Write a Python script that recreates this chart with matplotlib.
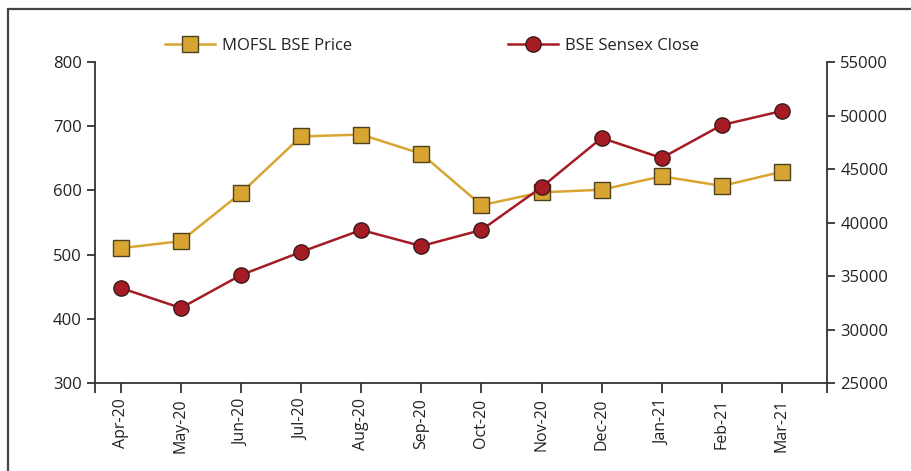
import numpy as np
import matplotlib
matplotlib.use('Agg')
import matplotlib.pyplot as plt
from matplotlib.patches import Rectangle
from matplotlib.lines import Line2D

plt.rcParams['font.family'] = ['Open Sans', 'DejaVu Sans']

# --- data ---
months = ['Apr-20', 'May-20', 'Jun-20', 'Jul-20', 'Aug-20', 'Sep-20',
          'Oct-20', 'Nov-20', 'Dec-20', 'Jan-21', 'Feb-21', 'Mar-21']
mofsl_price = [510, 521, 596, 684, 687, 657, 577, 597, 601, 622, 607, 629]
sensex_close = [33880, 32010, 35090, 37250, 39300, 37800,
                39300, 43300, 47900, 46030, 49110, 50420]

gold = '#D9A532'
gold_edge = '#4F4020'
red = '#A51C24'
red_edge = '#3A1A1A'
axis_col = '#333333'

fig = plt.figure(figsize=(9.12, 4.71), dpi=100)
W, H = 912, 471

# outer frame (left + top visible)
fig.patches.append(Rectangle((8 / W, -0.1), 1.2, 1 - 9 / H + 0.1,
                             transform=fig.transFigure, fill=False,
                             edgecolor='#444444', linewidth=1.6))

ax = fig.add_axes([95 / W, 1 - 383 / H, (827 - 95) / W, (383 - 62) / H])
ax2 = ax.twinx()

x = np.arange(len(months))
ax.plot(x, mofsl_price, color=gold, lw=1.8, marker='s', ms=11,
        mfc=gold, mec=gold_edge, mew=1.0, zorder=3)
ax2.plot(x, sensex_close, color=red, lw=1.8, marker='o', ms=11,
         mfc=red, mec=red_edge, mew=1.0, zorder=3)

ax.set_xlim(-0.43, 11.75)
ax.set_ylim(300, 800)
ax2.set_ylim(25000, 55000)
ax.set_yticks([300, 400, 500, 600, 700, 800])
ax2.set_yticks([25000, 30000, 35000, 40000, 45000, 50000, 55000])
ax.set_xticks(x)
ax.set_xticklabels(months, rotation=90)
ax.set_xticks([-0.43, 11.75], minor=True)

for a in (ax, ax2):
    a.spines['top'].set_visible(False)
    for s in a.spines.values():
        s.set_color(axis_col)
        s.set_linewidth(1.3)
    a.tick_params(colors=axis_col, width=1.3, length=6, labelsize=12,
                  labelcolor='#222222')
ax.tick_params(axis='x', which='both', length=7, width=1.3, color=axis_col,
               labelsize=11.5, pad=4)
ax2.spines['left'].set_visible(False)
ax2.spines['bottom'].set_visible(False)
ax.spines['right'].set_visible(False)

handles = [
    Line2D([], [], color=gold, lw=1.8, marker='s', ms=11, mfc=gold,
           mec=gold_edge, mew=1.0),
    Line2D([], [], color=red, lw=1.8, marker='o', ms=11, mfc=red,
           mec=red_edge, mew=1.0),
]
fig.legend(handles, ['MOFSL BSE Price', 'BSE Sensex Close'], ncol=2,
           loc='center', bbox_to_anchor=(432 / W, 1 - 46 / H),
           frameon=False, fontsize=12, columnspacing=9.3,
           handlelength=3.0, handletextpad=0.45, labelcolor='#222222')

fig.savefig('out.png', dpi=100)
